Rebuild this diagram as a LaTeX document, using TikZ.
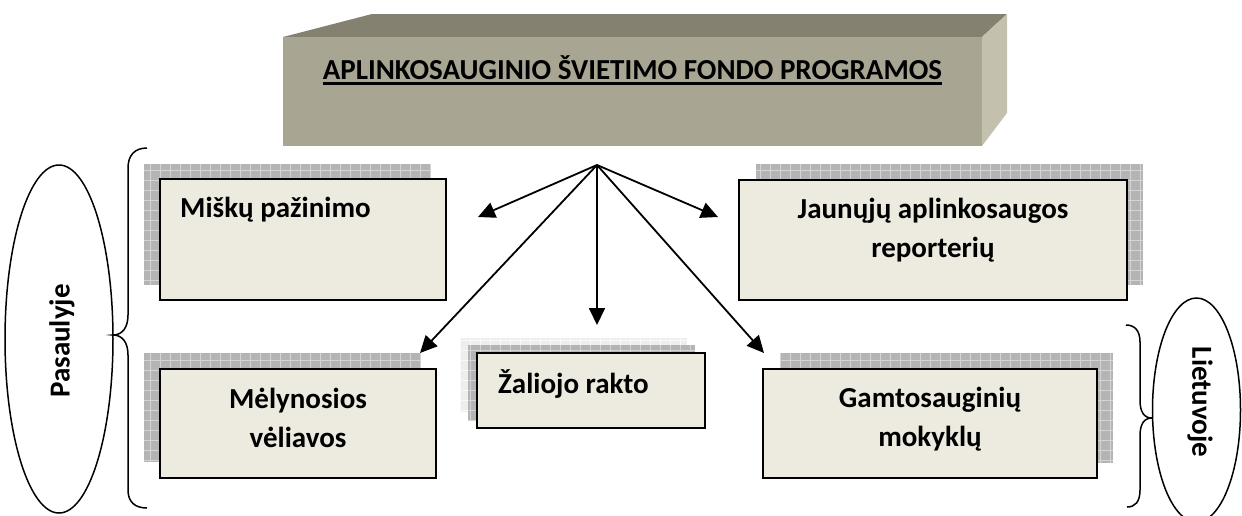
\documentclass[tikz,border=0pt]{standalone}
\usepackage{fontspec}
\setmainfont{Carlito}
\usetikzlibrary{arrows.meta,shapes.geometric}
\definecolor{boxfill}{RGB}{237,235,224}
\definecolor{frontc}{RGB}{168,165,147}
\definecolor{topc}{RGB}{133,129,112}
\definecolor{sidec}{RGB}{196,192,174}
\definecolor{gridfill}{RGB}{180,180,180}
\definecolor{gridline}{RGB}{212,212,212}
\definecolor{lgridfill}{RGB}{238,238,238}
\definecolor{lgridline}{RGB}{249,249,249}
\newcommand\gridshadow[5]{%
  \fill[#5gridfill] (#1,#2) rectangle (#3,#4);
  \draw[#5gridline, line width=0.9pt, step=10pt] (#1,#2) grid (#3,#4);}
\begin{document}
\begin{tikzpicture}[x=1pt,y=-1pt,
  lbl/.style={font=\fontsize{29}{39}\selectfont\bfseries, inner sep=0pt, align=center},
  card/.style={draw=black, line width=2pt, fill=boxfill, inner sep=0pt},
  arr/.style={line width=1.8pt, -{Triangle[length=17pt,width=16pt]}},
  curly/.style={line width=1.5pt},
  oval/.style={draw=black, line width=1.5pt, ellipse, inner sep=0pt},
]
\useasboundingbox (0,0) rectangle (1242,515);

% header block
\fill[topc] (283,37) -- (372,14) -- (1007,14) -- (982,37) -- cycle;
\fill[sidec] (982,37) -- (1007,14) -- (1007,113) -- (982,146) -- cycle;
\node[fill=frontc, minimum width=699pt, minimum height=109pt, inner sep=0pt, anchor=north west] (head) at (283,37) {};
\node[lbl, anchor=base] (title) at (632.5,79) {APLINKOSAUGINIO ŠVIETIMO FONDO PROGRAMOS};
\draw[line width=2.2pt] ([yshift=-4.5pt]title.base west) -- ([yshift=-4.5pt]title.base east);

% shadows
\gridshadow{144}{164}{430}{285}{}
\gridshadow{756}{164}{1143}{285}{}
\gridshadow{144}{353}{420}{462}{}
\gridshadow{460}{338}{687}{412}{l}
\gridshadow{468}{345}{695}{420}{}
\gridshadow{780}{353}{1113}{463}{}

% boxes
\node[card, minimum width=286pt, minimum height=121pt] (b1) at (303,239.5) {};
\node[card, minimum width=388pt, minimum height=120pt] (b2) at (933,240) {};
\node[card, minimum width=276pt, minimum height=109pt] (b3) at (298,423.5) {};
\node[card, minimum width=228pt, minimum height=75pt] (b4) at (591,390.5) {};
\node[card, minimum width=334pt, minimum height=109pt] (b5) at (930,423.5) {};

\node[lbl, anchor=base west] (t1) at (180,217) {Miškų pažinimo};
\node[lbl, anchor=base] (t2) at (933,257) {Jaunųjų aplinkosaugos\\reporterių};
\node[lbl, anchor=base] (t3) at (298,447) {Mėlynosios\\vėliavos};
\node[lbl, anchor=base west] (t4) at (498,393) {Žaliojo rakto};
\node[lbl, anchor=base] (t5) at (930,446) {Gamtosauginių\\mokyklų};

% arrows
\coordinate (hub) at (597,165);
\coordinate (a1) at (478,217);
\coordinate (a2) at (718,217);
\coordinate (a3) at (597,325);
\coordinate (a4) at (420,353);
\coordinate (a5) at (764,353);
\draw[arr] (hub) -- (a1);
\draw[arr] (hub) -- (a2);
\draw[arr] (hub) -- (a3);
\draw[arr] (hub) -- (a4);
\draw[arr] (hub) -- (a5);

% braces
\draw[curly] (147,148) .. controls (135,148) and (128,155) .. (128,168) -- (128,315)
  .. controls (128,328) and (122,335) .. (113,335)
  .. controls (122,335) and (128,342) .. (128,355) -- (128,490)
  .. controls (128,502) and (135,508) .. (147,508);
\draw[curly] (1126,325) .. controls (1135,325) and (1140,331) .. (1140,342) -- (1140,400)
  .. controls (1140,412) and (1144,418) .. (1152,418)
  .. controls (1144,418) and (1140,424) .. (1140,436) -- (1140,490)
  .. controls (1140,502) and (1135,507) .. (1127,507);

% ellipses
\node[oval, minimum width=108pt, minimum height=348pt] (pas) at (59,339) {};
\node[lbl, rotate=90] (pastxt) at (62,341) {Pasaulyje};
\node[oval, minimum width=88pt, minimum height=224pt] (lie) at (1196.5,410) {};
\node[lbl, rotate=-90] (lietxt) at (1200,402) {Lietuvoje};
\end{tikzpicture}
\end{document}
